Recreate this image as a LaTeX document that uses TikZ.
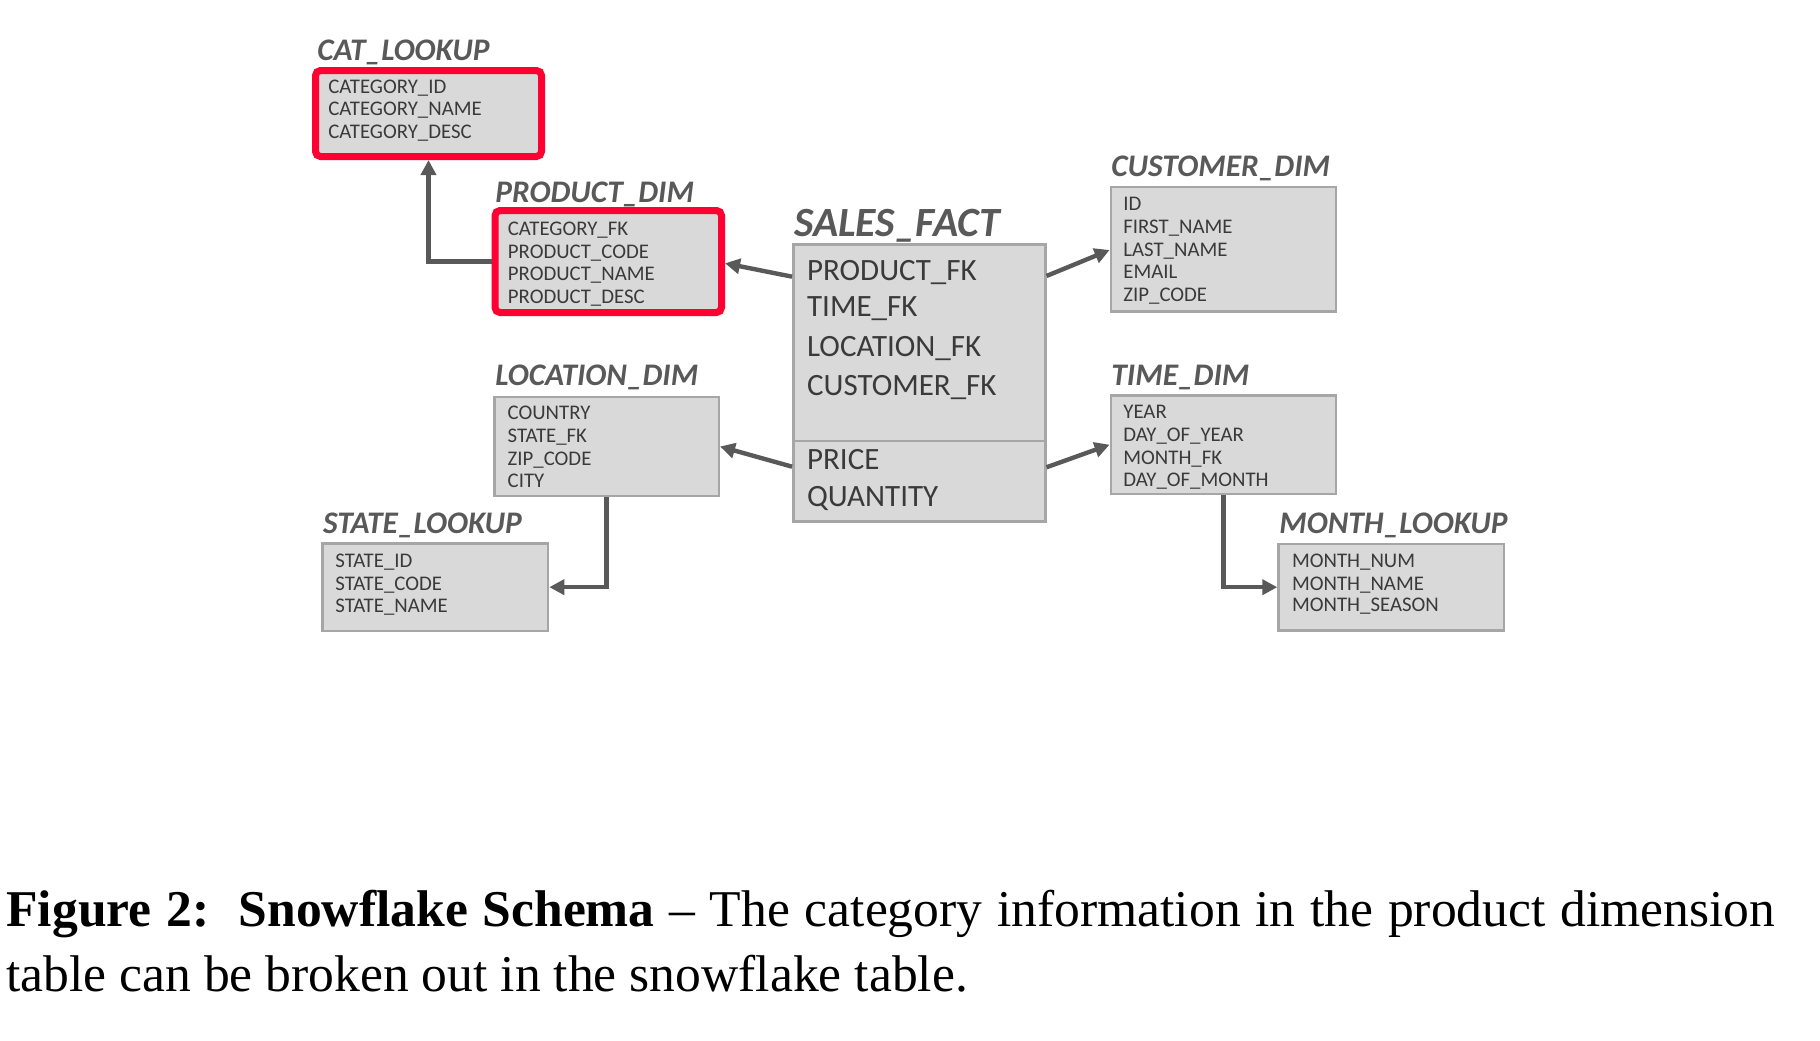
\documentclass[tikz,border=0pt]{standalone}
\usepackage{fontspec}
\setmainfont{Liberation Serif}
\newfontfamily\calfont{Carlito}
\usetikzlibrary{arrows.meta,calc}
\definecolor{boxfill}{HTML}{D9D9D9}
\definecolor{boxline}{HTML}{A6A6A6}
\definecolor{redline}{RGB}{255,0,51}
\definecolor{titlegray}{HTML}{595959}
\definecolor{txtgray}{HTML}{3A3A3A}
\definecolor{arrgray}{HTML}{595959}
\tikzset{
  tbl/.style={rectangle, draw=boxline, fill=boxfill, line width=1.25pt, inner sep=0pt},
  redtbl/.style={rectangle, draw=redline, fill=boxfill, line width=3.5pt, inner sep=0pt, rounded corners=2.5pt},
  ttl/.style={anchor=base west, inner sep=0pt, text=titlegray, font=\calfont\bfseries\itshape\fontsize{15.7}{18}\selectfont},
  bigttl/.style={ttl, font=\calfont\bfseries\itshape\fontsize{20.8}{24}\selectfont},
  fld/.style={anchor=base west, inner sep=0pt, text=txtgray, font=\calfont\fontsize{10.4}{12}\selectfont},
  bigfld/.style={fld, font=\calfont\fontsize{15.5}{18}\selectfont},
  arr/.style={draw=arrgray, line width=2.2pt, -{Triangle[length=7.5pt,width=7.5pt]}},
  divider/.style={draw=boxline, line width=1.25pt},
  captext/.style={anchor=base west, inner sep=0pt, font=\fontsize{25.8}{30}\selectfont}
}
\begin{document}
\begin{tikzpicture}[x=0.5pt,y=-0.5pt]
\useasboundingbox (0,0) rectangle (1820,1040);

% boxes
\node[redtbl, minimum width=113pt, minimum height=43pt] (cat) at (428.5,113.5) {};
\node[redtbl, minimum width=113.25pt, minimum height=51pt] (prod) at (608.25,261.5) {};
\node[tbl, minimum width=126pt, minimum height=138.5pt] (sales) at (919.3,383) {};
\node[tbl, minimum width=112.65pt, minimum height=62.25pt] (cust) at (1223.5,249.2) {};
\node[tbl, minimum width=112.65pt, minimum height=49.4pt] (time) at (1223.5,444.65) {};
\node[tbl, minimum width=112.25pt, minimum height=49.5pt] (loc) at (606.5,446.5) {};
\node[tbl, minimum width=112.75pt, minimum height=43.6pt] (state) at (435.3,587.15) {};
\node[tbl, minimum width=112.6pt, minimum height=43.25pt] (month) at (1391.15,587.2) {};

\draw[divider] ($(sales.north west)+(0,197.7)$) -- ($(sales.north east)+(0,197.7)$);

% titles
\node[ttl] (catT) at (317,60.7) {CAT\_LOOKUP};
\node[ttl] (prodT) at (495,202.7) {PRODUCT\_DIM};
\node[bigttl] (salesT) at (793.6,236.7) {SALES\_FACT};
\node[ttl] (custT) at (1111,176.7) {CUSTOMER\_DIM};
\node[ttl] (timeT) at (1111,385) {TIME\_DIM};
\node[ttl] (locT) at (495,385) {LOCATION\_DIM};
\node[ttl] (stateT) at (322.7,533.3) {STATE\_LOOKUP};
\node[ttl] (monthT) at (1279,533.3) {MONTH\_LOOKUP};

% fields
\node[fld] (cat1) at (328,93.3) {CATEGORY\_ID};
\node[fld] (cat2) at (328,115.7) {CATEGORY\_NAME};
\node[fld] (cat3) at (328,138.3) {CATEGORY\_DESC};

\node[fld] (prod1) at (507.5,235) {CATEGORY\_FK};
\node[fld] (prod2) at (507.5,258.3) {PRODUCT\_CODE};
\node[fld] (prod3) at (507.5,280.7) {PRODUCT\_NAME};
\node[fld] (prod4) at (507.5,303.3) {PRODUCT\_DESC};

\node[bigfld] (sales1) at (806.7,280) {PRODUCT\_FK};
\node[bigfld] (sales2) at (806.7,316.7) {TIME\_FK};
\node[bigfld] (sales3) at (806.7,356) {LOCATION\_FK};
\node[bigfld] (sales4) at (806.7,395) {CUSTOMER\_FK};
\node[bigfld] (sales5) at (806.7,469.3) {PRICE};
\node[bigfld] (sales6) at (806.7,506) {QUANTITY};

\node[fld] (cust1) at (1123,210.7) {ID};
\node[fld] (cust2) at (1123,233.3) {FIRST\_NAME};
\node[fld] (cust3) at (1123,256) {LAST\_NAME};
\node[fld] (cust4) at (1123,278.3) {EMAIL};
\node[fld] (cust5) at (1123,301.7) {ZIP\_CODE};

\node[fld] (time1) at (1123,418.3) {YEAR};
\node[fld] (time2) at (1123,441) {DAY\_OF\_YEAR};
\node[fld] (time3) at (1123,464) {MONTH\_FK};
\node[fld] (time4) at (1123,486.7) {DAY\_OF\_MONTH};

\node[fld] (loc1) at (507.3,419.3) {COUNTRY};
\node[fld] (loc2) at (507.3,442.7) {STATE\_FK};
\node[fld] (loc3) at (507.3,465) {ZIP\_CODE};
\node[fld] (loc4) at (507.3,487.7) {CITY};

\node[fld] (state1) at (335,567.3) {STATE\_ID};
\node[fld] (state2) at (335,590) {STATE\_CODE};
\node[fld] (state3) at (335,612.3) {STATE\_NAME};

\node[fld] (month1) at (1291.7,567.3) {MONTH\_NUM};
\node[fld] (month2) at (1291.7,590) {MONTH\_NAME};
\node[fld] (month3) at (1291.7,611.7) {MONTH\_SEASON};

% connectors
\draw[arr] (prod.west) -| (cat.south);
\draw[arr] ($(sales.north west)+(0,33.4)$) -- ($(prod.east)+(0,1.8)$);
\draw[arr] ($(sales.north east)+(0,32.7)$) -- ($(cust.west)+(0,0.8)$);
\draw[arr] ($(sales.north west)+(0,223.4)$) -- (loc.east);
\draw[arr] ($(sales.north east)+(0,224)$) -- (time.west);
\draw[arr] (loc.south) |- (state.east);
\draw[arr] (time.south) |- (month.west);

% caption
\node[captext] (cap1) at (6,926.5) {\makebox[884.5pt][s]{\textbf{Figure 2:\ \ Snowflake Schema} – The category information in the product dimension}};
\node[captext] (cap2) at (6,991) {table can be broken out in the snowflake table.};
\end{tikzpicture}
\end{document}
